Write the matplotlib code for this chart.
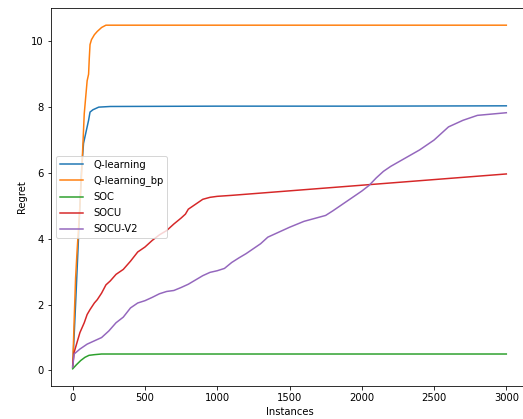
import matplotlib
matplotlib.use("Agg")
import matplotlib.pyplot as plt
import numpy as np

# regret curves, sampled at these instance counts
q_x = [0, 20, 40, 60, 75, 90, 110, 120, 140, 180, 260, 1000, 2000, 3000]
q_y = [0.1, 2.0, 4.0, 6.0, 6.9, 7.2, 7.6, 7.85, 7.92, 8.0, 8.02, 8.03, 8.03, 8.04]

qbp_x = [0, 10, 20, 30, 40, 50, 60, 70, 80, 90, 100, 110, 115, 120, 130, 150, 170, 200, 230, 3000]
qbp_y = [0.1, 1.5, 2.8, 3.6, 4.3, 5.0, 5.8, 6.8, 7.8, 8.3, 8.8, 9.0, 9.5, 9.9, 10.05, 10.2, 10.3, 10.42, 10.49, 10.49]

soc_x = [0, 25, 55, 85, 113, 150, 200, 3000]
soc_y = [0.05, 0.17, 0.3, 0.4, 0.46, 0.48, 0.5, 0.5]

socu_x = [0, 10, 30, 50, 80, 100, 120, 150, 170, 200, 230, 260, 300, 350, 400, 450, 500,
          550, 600, 650, 700, 750, 780, 800, 850, 900, 950, 1000, 1100, 3000]
socu_y = [0.15, 0.55, 0.85, 1.15, 1.45, 1.7, 1.85, 2.05, 2.15, 2.35, 2.6, 2.72, 2.92, 3.07, 3.32, 3.6, 3.75,
          3.95, 4.12, 4.25, 4.45, 4.63, 4.75, 4.9, 5.05, 5.2, 5.26, 5.29, 5.32, 5.97]

socu2_x = [0, 10, 50, 100, 150, 200, 250, 300, 350, 400, 450, 500, 550, 600, 650, 700, 750, 800,
           850, 900, 950, 1000, 1050, 1100, 1150, 1200, 1300, 1350, 1400, 1500, 1600, 1700, 1750,
           1800, 1900, 2000, 2050, 2100, 2150, 2200, 2300, 2400, 2500, 2550, 2600, 2650, 2700, 2800, 3000]
socu2_y = [0.1, 0.5, 0.65, 0.8, 0.9, 1.0, 1.2, 1.45, 1.62, 1.9, 2.05, 2.12, 2.22, 2.33, 2.4, 2.43, 2.52, 2.62,
           2.75, 2.88, 2.98, 3.03, 3.1, 3.28, 3.42, 3.55, 3.85, 4.05, 4.15, 4.35, 4.53, 4.65, 4.71,
           4.85, 5.15, 5.45, 5.62, 5.85, 6.05, 6.2, 6.45, 6.7, 7.0, 7.2, 7.4, 7.5, 7.6, 7.75, 7.83]

fig = plt.figure(figsize=(523 / 72, 419 / 72), dpi=72)
ax = fig.add_axes([51 / 523, 1 - 386 / 419, 477 / 523, 378 / 419])

ax.plot(q_x, q_y, label="Q-learning")
ax.plot(qbp_x, qbp_y, label="Q-learning_bp")
ax.plot(soc_x, soc_y, label="SOC")
ax.plot(socu_x, socu_y, label="SOCU")
ax.plot(socu2_x, socu2_y, label="SOCU-V2")

ax.set_xlabel("Instances")
ax.set_ylabel("Regret")
ax.legend(loc="center left", handlelength=2.3, handletextpad=1.0, labelspacing=0.6)

fig.savefig("out.png", dpi=72)
